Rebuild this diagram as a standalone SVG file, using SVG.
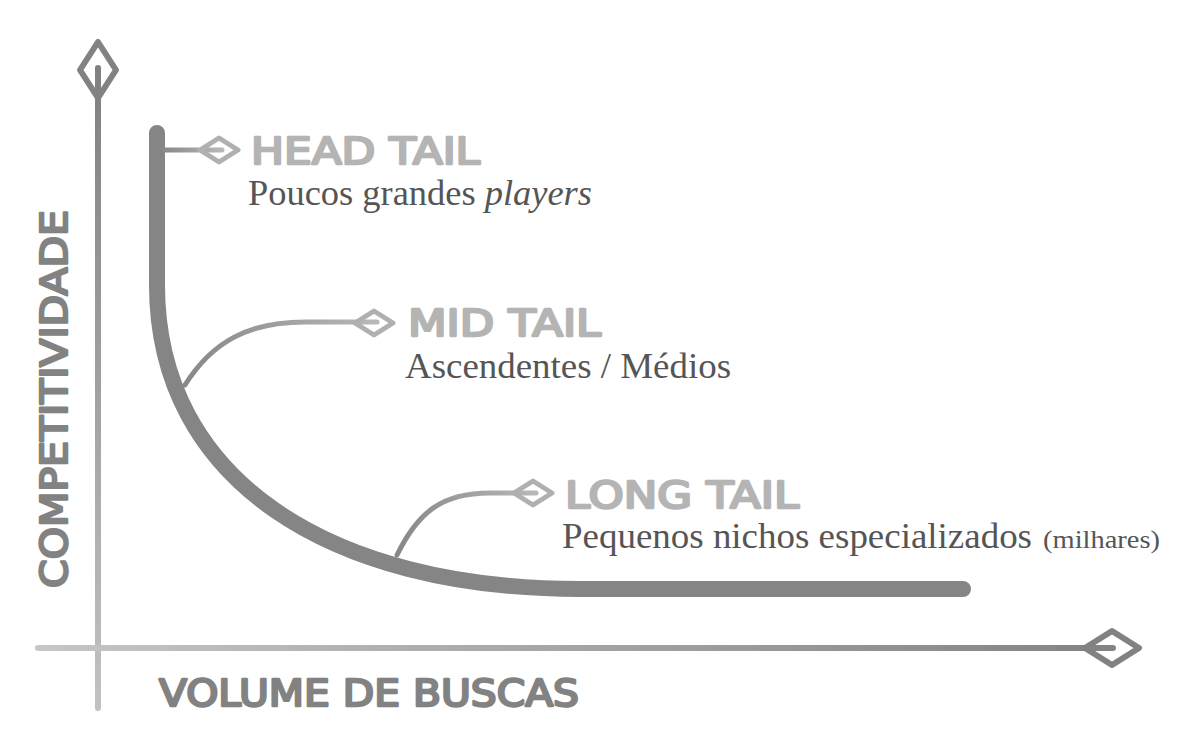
<svg xmlns="http://www.w3.org/2000/svg" width="1200" height="750" viewBox="0 0 1200 750">
  <style>
    .head { font-family: "DejaVu Sans", "Liberation Sans", sans-serif; font-weight: 400; font-size: 37px; fill: #b4b4b4; stroke: #b4b4b4; stroke-width: 2.4; stroke-linejoin: round; }
    .axislbl { font-family: "DejaVu Sans", "Liberation Sans", sans-serif; font-weight: 400; font-size: 37px; fill: #828282; stroke: #828282; stroke-width: 2.4; stroke-linejoin: round; }
    .sub { font-family: "Liberation Serif", serif; font-size: 35px; fill: #555555; }
    .small { font-family: "Liberation Serif", serif; font-size: 25px; fill: #555555; }
    .conn { fill: none; stroke-width: 5; stroke-linecap: round; }
    .cdia { fill: none; stroke: #b0b0b0; stroke-width: 5; stroke-linejoin: round; }
    .adia { fill: none; stroke: #828282; stroke-width: 6; stroke-linejoin: round; }
  </style>
  <defs>
    <linearGradient id="gy" gradientUnits="userSpaceOnUse" x1="0" y1="70" x2="0" y2="710">
      <stop offset="0" stop-color="#808080"/>
      <stop offset="1" stop-color="#c2c2c2"/>
    </linearGradient>
    <linearGradient id="gx" gradientUnits="userSpaceOnUse" x1="38" y1="0" x2="1112" y2="0">
      <stop offset="0" stop-color="#c6c6c6"/>
      <stop offset="1" stop-color="#838383"/>
    </linearGradient>
    <linearGradient id="gh" gradientUnits="userSpaceOnUse" x1="165" y1="0" x2="222" y2="0">
      <stop offset="0" stop-color="#8a8a8a"/>
      <stop offset="1" stop-color="#b8b8b8"/>
    </linearGradient>
    <linearGradient id="gm" gradientUnits="userSpaceOnUse" x1="185" y1="0" x2="377" y2="0">
      <stop offset="0" stop-color="#888888"/>
      <stop offset="1" stop-color="#b8b8b8"/>
    </linearGradient>
    <linearGradient id="gl" gradientUnits="userSpaceOnUse" x1="397" y1="0" x2="536" y2="0">
      <stop offset="0" stop-color="#888888"/>
      <stop offset="1" stop-color="#b8b8b8"/>
    </linearGradient>
    <path id="cd" d="M-19,0 L0,-12 L19,0 L0,12 Z"/>
  </defs>

  <g id="y-axis">
    <line x1="98" y1="708" x2="98" y2="68" stroke="url(#gy)" stroke-width="6" stroke-linecap="round"/>
    <path class="adia" d="M98,42 L116,70 L98,98 L80,70 Z"/>
    <text class="axislbl" transform="translate(67,588) rotate(-90)" x="0" y="0" textLength="378" lengthAdjust="spacingAndGlyphs">COMPETITIVIDADE</text>
  </g>

  <g id="x-axis">
    <line x1="38" y1="648" x2="1113" y2="648" stroke="url(#gx)" stroke-width="6" stroke-linecap="round"/>
    <path class="adia" d="M1085,648 L1112,631 L1139,648 L1112,665 Z"/>
    <text class="axislbl" x="159" y="706" textLength="420" lengthAdjust="spacingAndGlyphs">VOLUME DE BUSCAS</text>
  </g>

  <g id="curve">
    <path d="M157,133 V285 C157,480 330,589 580,589 H963" fill="none" stroke="#858585" stroke-width="16" stroke-linecap="round" stroke-linejoin="round"/>
  </g>

  <g id="connectors">
    <path class="conn" stroke="url(#gh)" d="M165,150 H222"/>
    <path class="conn" stroke="url(#gm)" d="M185,385 C212,342 248,322 305,322 H377"/>
    <path class="conn" stroke="url(#gl)" d="M397,555 C418,512 442,493 490,493 H536"/>
  </g>

  <g id="head-tail">
    <use href="#cd" class="cdia" x="219" y="150"/>
    <text class="head" x="251" y="164" textLength="229" lengthAdjust="spacingAndGlyphs">HEAD TAIL</text>
    <text class="sub" x="248" y="205" textLength="344" lengthAdjust="spacingAndGlyphs">Poucos grandes <tspan font-style="italic">players</tspan></text>
  </g>

  <g id="mid-tail">
    <use href="#cd" class="cdia" x="374" y="323"/>
    <text class="head" x="408" y="336" textLength="193" lengthAdjust="spacingAndGlyphs">MID TAIL</text>
    <text class="sub" x="405" y="378" textLength="326" lengthAdjust="spacingAndGlyphs">Ascendentes / Médios</text>
  </g>

  <g id="long-tail">
    <use href="#cd" class="cdia" x="533" y="493"/>
    <text class="head" x="565" y="508" textLength="234" lengthAdjust="spacingAndGlyphs">LONG TAIL</text>
    <text class="sub" x="562" y="548" textLength="470" lengthAdjust="spacingAndGlyphs">Pequenos nichos especializados</text>
    <text class="small" x="1043" y="548" textLength="117" lengthAdjust="spacingAndGlyphs">(milhares)</text>
  </g>
</svg>
